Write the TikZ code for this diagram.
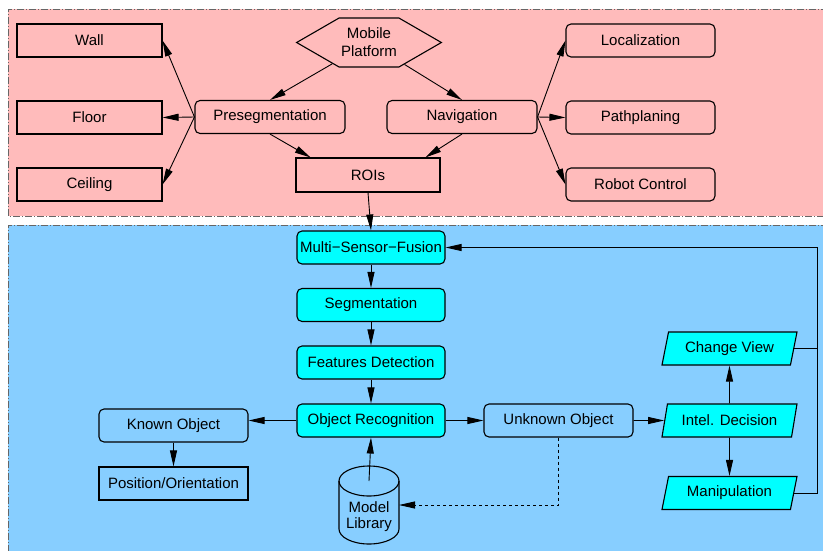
\documentclass[tikz,border=0pt]{standalone}
\usepackage{fontspec}
\setmainfont{Liberation Sans}
\usepackage{tikz}
\usetikzlibrary{calc}
\usetikzlibrary{arrows.meta}
\usetikzlibrary{shapes.geometric, shapes.symbols}

\definecolor{pinkbg}{RGB}{255,187,187}
\definecolor{bluebg}{RGB}{135,206,255}
\definecolor{cyanbox}{RGB}{0,255,255}

\begin{document}
\begin{tikzpicture}[x=1pt, y=-1pt,
  every node/.style={font=\fontsize{15}{17}\selectfont, inner sep=2pt},
  plainbox/.style={draw, line width=1.1pt, minimum width=145pt, minimum height=33pt},
  roundbox/.style={plainbox, rounded corners=5pt},
  fusebox/.style={roundbox, fill=cyanbox},
  decbox/.style={draw, line width=1.1pt, fill=cyanbox, trapezium, trapezium left angle=70, trapezium right angle=110, trapezium stretches body, minimum width=135pt, minimum height=33pt},
  drumcap/.style={x radius=30pt, y radius=15pt},
  arr/.style={-{Triangle[length=16pt,width=7pt]}, line width=0.9pt},
  region/.style={draw=black!60, line width=1pt, dash pattern=on 7pt off 2pt on 1pt off 2pt}]

  \path[use as bounding box] (0,0) rectangle (823,550);
  \clip (0,0) rectangle (823,550);

  % the two regions
  \fill[pinkbg] (8,9) rectangle (840,216);
  \draw[region] (840,9) -- (8,9) -- (8,216) -- (840,216);
  \fill[bluebg] (8,225) rectangle (840,560);
  \draw[region] (840,225) -- (8,225) -- (8,560);

  % platform part
  \node[draw, line width=1.1pt, fill=pinkbg, signal, signal to=west and east, signal pointer angle=60, minimum height=49pt, align=center, font=\fontsize{15}{18}\selectfont] (mobile) at (369,42.5) {Mobile\\Platform};
  \node[roundbox, fill=pinkbg, minimum width=150pt] (preseg) at (270,117) {Presegmentation};
  \node[roundbox, fill=pinkbg, minimum width=150pt] (nav) at (462,117) {Navigation};
  \node[plainbox, fill=pinkbg, minimum width=144pt, minimum height=34pt] (rois) at (368,175) {ROIs};
  \node[plainbox, fill=pinkbg] (wall) at (89.5,40.5) {Wall};
  \node[plainbox, fill=pinkbg] (floor) at (89.5,117.5) {Floor};
  \node[plainbox, fill=pinkbg] (ceiling) at (89.5,184.5) {Ceiling};
  \node[roundbox, fill=pinkbg, minimum width=149pt] (loc) at (640.5,40.5) {Localization};
  \node[roundbox, fill=pinkbg, minimum width=149pt] (path) at (640.5,117.5) {Pathplaning};
  \node[roundbox, fill=pinkbg, minimum width=149pt] (robot) at (640.5,184.5) {Robot Control};

  \draw[arr] (mobile) -- (preseg.north);
  \draw[arr] (mobile) -- (nav.north);
  \draw[arr] (preseg.south) -- (rois.163);
  \draw[arr] (nav.south) -- (rois.17);
  \foreach \part in {wall, floor, ceiling}
    \draw[arr] (preseg.west) -- (\part.east);
  \foreach \task in {loc, path, robot}
    \draw[arr] (nav.east) -- (\task.west);

  % recognition part
  \node[fusebox, minimum width=148pt] (msf) at (371,247.5) {Multi−Sensor−Fusion};
  \node[fusebox, minimum width=148pt] (seg) at (371,305) {Segmentation};
  \node[fusebox, minimum width=148pt] (feat) at (371,362.5) {Features Detection};
  \node[fusebox, minimum width=148pt] (objrec) at (371,420.5) {Object Recognition};
  \node[roundbox, fill=bluebg, minimum width=149pt] (known) at (173.5,425.5) {Known Object};
  \node[plainbox, fill=bluebg, minimum width=149pt] (pos) at (173.5,483.5) {Position/Orientation};
  \node[roundbox, fill=bluebg, minimum width=149pt] (unknown) at (558.5,420.5) {Unknown Object};
  \node[decbox] (intel) at (729.5,420.5) {Intel. Decision};
  \node[decbox] (view) at (729.5,348.5) {Change View};
  \node[decbox] (manip) at (729.5,493) {Manipulation};

  % model library drum
  \coordinate (libtop) at (369,481);
  \coordinate (libeast) at (399,505);
  \draw[line width=1.1pt, fill=bluebg] ($(libtop)+(-30,0)$) -- ++(0,48) arc[start angle=180, end angle=360, drumcap]
    -- ++(0,-48) arc[start angle=0, end angle=180, drumcap] -- cycle;
  \draw[line width=1.1pt] ($(libtop)+(-30,0)$) arc[start angle=180, end angle=360, drumcap];
  \node[align=center, inner sep=0pt, font=\fontsize{15}{16}\selectfont] (lib) at (369,517) {Model\\Library};
  \coordinate (rail) at (817,0);

  \draw[arr] (rois.south) -- (msf.north);
  \draw[arr] (msf) -- (seg);
  \draw[arr] (seg) -- (feat);
  \draw[arr] (feat) -- (objrec);
  \draw[arr] (objrec.west) -- (objrec.west -| known.east);
  \draw[arr] (known) -- (pos);
  \draw[arr] (libtop) -- (objrec.south);
  \draw[arr] (objrec) -- (unknown);
  \draw[arr] (unknown) -- (intel);
  \draw[arr] (intel) -- (view);
  \draw[arr] (intel) -- (manip);
  \draw[arr, dashed] (unknown.south) |- (libeast);
  \draw[arr] (manip.east) -- (manip.east -| rail) -- (rail |- msf.east) -- (msf.east);
  \draw[line width=0.9pt] (view.east) -- (view.east -| rail);
\end{tikzpicture}
\end{document}
